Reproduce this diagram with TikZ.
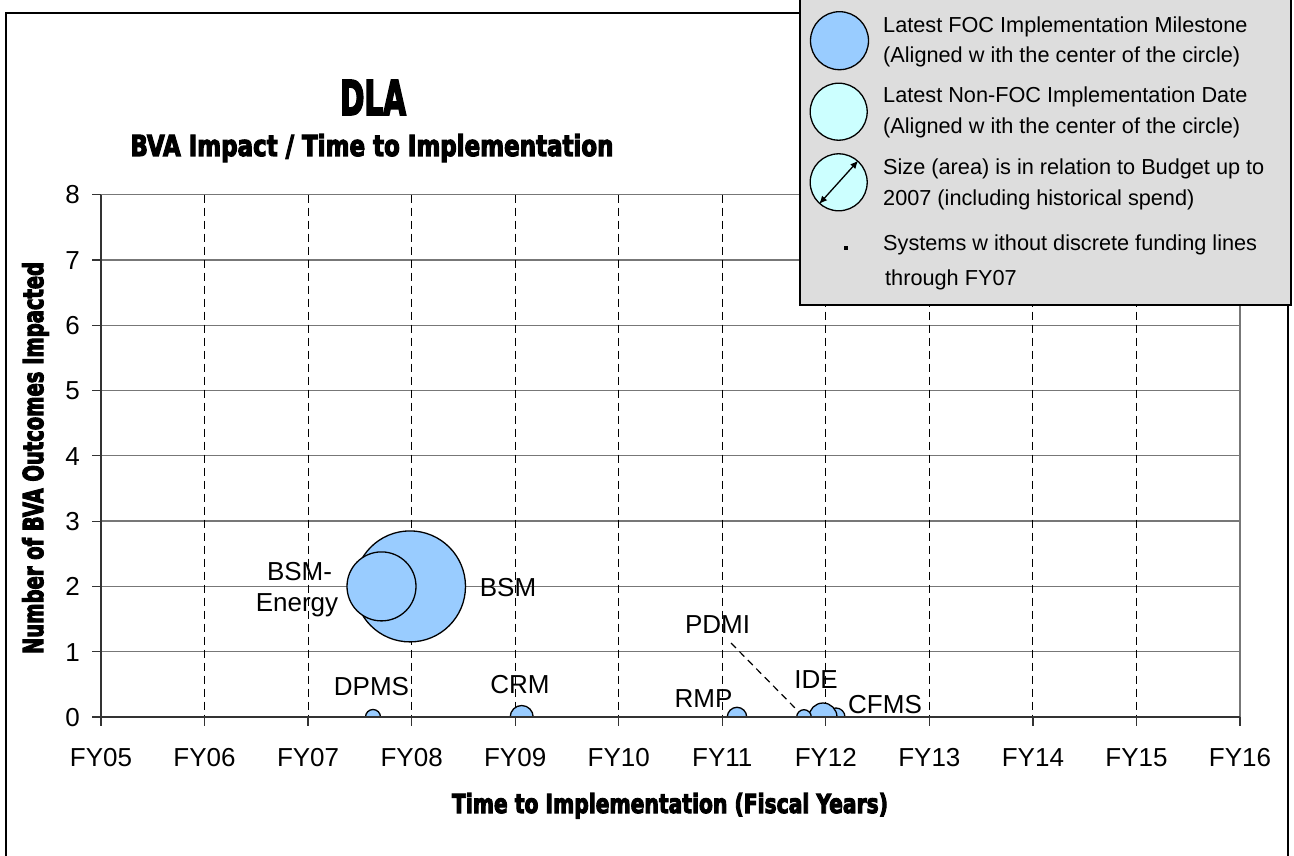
\documentclass[tikz,border=0pt]{standalone}
\usepackage{fontspec}
\usepackage{graphicx}
\setmainfont{Liberation Sans}
\newfontfamily\impactfont{DejaVu Sans Condensed Bold}[FakeBold=4]
\usetikzlibrary{arrows.meta}
\definecolor{bubble}{HTML}{99CCFF}
\definecolor{bubblelight}{HTML}{CCFFFF}
\definecolor{legendbg}{HTML}{DDDDDD}
\definecolor{gridgray}{HTML}{777777}
\definecolor{axisdark}{HTML}{333333}
\begin{document}
\begin{tikzpicture}[x=1pt,y=-1pt,
  lbl/.style={font=\fontsize{26}{31}\selectfont, inner sep=0pt, anchor=base},
  ticklbl/.style={font=\fontsize{26}{31}\selectfont, inner sep=0pt},
  legtext/.style={font=\fontsize{21.7}{30}\selectfont, anchor=base west, inner sep=0pt},
  bub/.style={circle, draw=black, line width=1.3pt, fill=bubble, inner sep=0pt, minimum size=#1},
  hgrid/.style={draw=gridgray, line width=1.3pt},
  vgrid/.style={draw=black, line width=0.9pt, dash pattern=on 8pt off 5pt},
  axisline/.style={draw=axisdark, line width=2pt},
  tickmark/.style={draw=axisdark, line width=1.2pt},
  leader/.style={draw=black, line width=1.2pt, dash pattern=on 7pt off 5pt}
]
\useasboundingbox (0,0) rectangle (1294,856);
\fill[white] (0,0) rectangle (1294,856);
% outer frame
\draw[black, line width=1.5pt] (6,13) rectangle (1288,880);

% titles
\node[inner sep=0pt, anchor=base] (title) at (373,115) {\resizebox{66pt}{35pt}{\impactfont DLA}};
\node[inner sep=0pt, anchor=base] (subtitle) at (372,156) {\resizebox{483pt}{22pt}{\impactfont BVA Impact / Time to Implementation}};
\node[inner sep=0pt, rotate=90] (ytitle) at (35.5,458) {\resizebox{392pt}{21pt}{\impactfont Number of BVA Outcomes Impacted}};
\node[inner sep=0pt, anchor=base] (xtitle) at (670,813) {\resizebox{436pt}{20pt}{\impactfont Time to Implementation (Fiscal Years)}};

% horizontal gridlines and y ticks
\foreach \v in {1,...,8} {
  \draw[hgrid] (101,{717-65.3*\v}) -- (1240,{717-65.3*\v});
}
\foreach \v in {0,...,8} {
  \draw[tickmark] (92,{717-65.3*\v}) -- (101,{717-65.3*\v});
  \node[ticklbl, anchor=base east] (ylab\v) at (80,{717-65.3*\v+9.3}) {\v};
}
% vertical dashed gridlines
\foreach \k in {1,...,10} {
  \draw[vgrid] ({101+103.545*\k},194.6) -- ({101+103.545*\k},717);
}
% right border
\draw[draw=gridgray, line width=2pt] (1240,194.6) -- (1240,717);

% bubbles
\begin{scope}
\clip (101,194.6) rectangle (1240,717);
\node[bub=111pt] (bsm) at (410,586.4) {};
\node[bub=69pt] (bsmenergy) at (381.5,586.4) {};
\node[bub=15pt] (dpms) at (373,717) {};
\node[bub=23pt] (crm) at (521.7,717) {};
\node[bub=19.4pt] (rmp) at (737,717) {};
\node[bub=18pt] (cfms) at (836,717) {};
\node[bub=28pt] (ide) at (823,717) {};
\node[bub=14.6pt] (pdmi) at (804,717) {};
\end{scope}

% axes
\draw[axisline] (101,194.6) -- (101,717);
\draw[axisline] (101,717) -- (1240,717);
\foreach \k/\lab in {0/FY05,1/FY06,2/FY07,3/FY08,4/FY09,5/FY10,6/FY11,7/FY12,8/FY13,9/FY14,10/FY15,11/FY16} {
  \draw[tickmark] ({101+103.545*\k},717) -- ({101+103.545*\k},726);
  \node[ticklbl, anchor=base] (xlab\k) at ({101+103.545*\k},766) {\lab};
}

% data labels
\node[lbl] (lblbsm) at (508,596) {BSM};
\node[lbl] (lblbsme1) at (299.5,580) {BSM-};
\node[lbl] (lblbsme2) at (297,611) {Energy};
\node[lbl] (lbldpms) at (371.5,695) {DPMS};
\node[lbl] (lblcrm) at (520,693) {CRM};
\node[lbl] (lblrmp) at (703.5,707) {RMP};
\node[lbl] (lblpdmi) at (717.5,633) {PDMI};
\node[lbl] (lblide) at (816,688) {IDE};
\node[lbl, anchor=base west] (lblcfms) at (848,713) {CFMS};
\coordinate (pdmistart) at (731,643);
\draw[leader] (pdmistart) -- (pdmi.135);

% legend
\draw[black, line width=1.5pt, fill=legendbg] (800,-3) rectangle (1291,305);
\node[circle, draw=black, line width=1.3pt, fill=bubble, inner sep=0pt, minimum width=58pt, minimum height=57pt] (leg1) at (839.5,40.7) {};
\node[circle, draw=black, line width=1.3pt, fill=bubblelight, inner sep=0pt, minimum size=57pt] (leg2) at (838.7,111.7) {};
\node[circle, draw=black, line width=1.3pt, fill=bubblelight, inner sep=0pt, minimum size=57pt] (leg3) at (838.7,182.3) {};
\draw[line width=1.3pt, {Latex[length=8pt,width=7pt]}-{Latex[length=8pt,width=7pt]}] (leg3.228) -- (leg3.48);
\node[fill=black, minimum size=3.5pt, inner sep=0pt] (legdot) at (846,248) {};
\node[legtext] (lt1) at (883,32.3) {Latest FOC Implementation Milestone};
\node[legtext] (lt2) at (883,62.8) {(Aligned w ith the center of the circle)};
\node[legtext] (lt3) at (883,103) {Latest Non-FOC Implementation Date};
\node[legtext] (lt4) at (883,134) {(Aligned w ith the center of the circle)};
\node[legtext] (lt5) at (883,175) {Size (area) is in relation to Budget up to};
\node[legtext] (lt6) at (883,205) {2007 (including historical spend)};
\node[legtext] (lt7) at (883,251) {Systems w ithout discrete funding lines};
\node[legtext] (lt8) at (885,285) {through FY07};
\end{tikzpicture}
\end{document}
